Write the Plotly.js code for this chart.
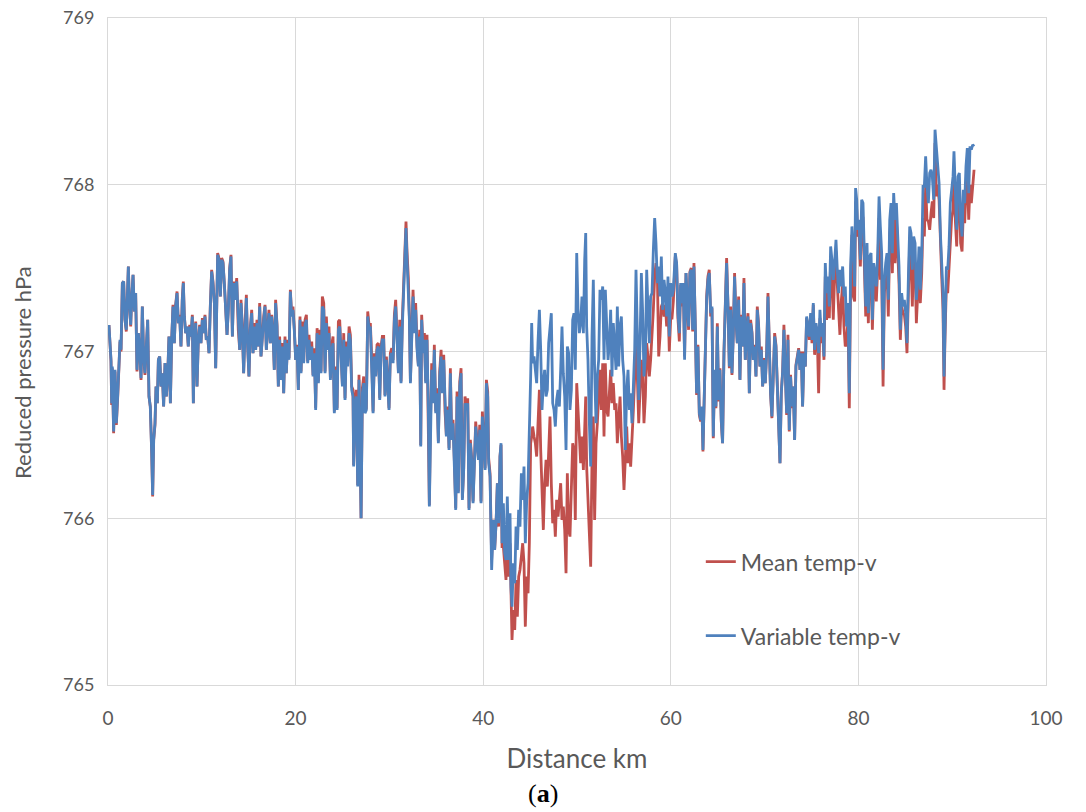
<!DOCTYPE html>
<html>
<head>
<meta charset="utf-8">
<script src="https://cdn.plot.ly/plotly-3.0.1.min.js"></script>
<style>
  html, body { margin: 0; padding: 0; background: #ffffff; }
  #chart { width: 1086px; height: 812px; }
</style>
</head>
<body>
<div id="chart"></div>
<script>
// Distance along the route (km)
const distanceKm = [
  0.00, 0.11, 0.32, 0.39, 0.46, 0.60, 0.75, 0.89, 1.03, 1.17,
  1.28, 1.39, 1.53, 1.67, 1.81, 1.95, 2.06, 2.17, 2.27, 2.42,
  2.52, 2.67, 2.81, 2.95, 3.09, 3.23, 3.38, 3.52, 3.66, 3.80,
  3.94, 4.09, 4.23, 4.37, 4.51, 4.66, 4.76, 4.87, 5.01, 5.12,
  5.26, 5.37, 5.51, 5.65, 5.79, 5.93, 6.08, 6.22, 6.36, 6.50,
  6.65, 6.79, 6.93, 7.07, 7.21, 7.36, 7.50, 7.64, 7.78, 7.92,
  8.03, 8.14, 8.28, 8.42, 8.56, 8.71, 8.85, 8.99, 9.10, 9.20,
  9.35, 9.49, 9.63, 9.77, 9.91, 10.06, 10.20, 10.34, 10.48, 10.63,
  10.77, 10.91, 11.05, 11.19, 11.34, 11.48, 11.58, 11.69, 11.83, 11.98,
  12.12, 12.26, 12.40, 12.54, 12.69, 12.83, 12.97, 13.11, 13.26, 13.40,
  13.54, 13.72, 13.89, 14.04, 14.18, 14.32, 14.46, 14.61, 14.75, 14.89,
  15.03, 15.17, 15.32, 15.46, 15.60, 15.74, 15.88, 16.03, 16.17, 16.31,
  16.45, 16.60, 16.74, 16.88, 17.02, 17.16, 17.31, 17.45, 17.59, 17.73,
  17.87, 18.02, 18.16, 18.30, 18.44, 18.59, 18.73, 18.87, 19.01, 19.15,
  19.30, 19.44, 19.58, 19.72, 19.86, 20.01, 20.15, 20.29, 20.47, 20.58,
  20.72, 20.86, 21.01, 21.15, 21.29, 21.43, 21.57, 21.72, 21.86, 22.00,
  22.14, 22.29, 22.43, 22.57, 22.71, 22.85, 23.00, 23.14, 23.28, 23.42,
  23.56, 23.71, 23.85, 23.99, 24.13, 24.28, 24.42, 24.56, 24.70, 24.84,
  24.99, 25.13, 25.27, 25.41, 25.55, 25.70, 25.84, 25.98, 26.12, 26.19,
  26.34, 26.48, 26.62, 26.76, 26.87, 26.98, 27.12, 27.26, 27.40, 27.54,
  27.69, 27.83, 27.97, 28.11, 28.26, 28.40, 28.54, 28.68, 28.82, 28.97,
  29.11, 29.25, 29.39, 29.53, 29.68, 29.82, 29.96, 30.10, 30.25, 30.39,
  30.53, 30.67, 30.81, 30.96, 31.10, 31.24, 31.38, 31.52, 31.67, 31.77,
  31.88, 32.02, 32.13, 32.24, 32.38, 32.52, 32.66, 32.80, 32.95, 33.09,
  33.23, 33.34, 33.44, 33.59, 33.73, 33.87, 34.01, 34.15, 34.26, 34.37,
  34.51, 34.65, 34.79, 34.94, 35.08, 35.22, 35.36, 35.51, 35.65, 35.79,
  35.93, 36.07, 36.22, 36.36, 36.50, 36.64, 36.78, 36.93, 37.07, 37.21,
  37.35, 37.50, 37.64, 37.78, 37.92, 38.06, 38.21, 38.35, 38.49, 38.63,
  38.77, 38.92, 39.06, 39.20, 39.34, 39.49, 39.63, 39.77, 39.91, 40.05,
  40.20, 40.34, 40.48, 40.58, 40.73, 40.90, 41.08, 41.22, 41.37, 41.51,
  41.65, 41.79, 41.90, 42.01, 42.15, 42.29, 42.43, 42.57, 42.72, 42.86,
  42.96, 43.07, 43.21, 43.36, 43.50, 43.64, 43.78, 43.92, 44.07, 44.21,
  44.35, 44.49, 44.64, 44.78, 44.92, 45.06, 45.17, 45.27, 45.42, 45.56,
  45.70, 45.84, 45.99, 46.13, 46.27, 46.41, 46.55, 46.70, 46.84, 46.98,
  47.12, 47.26, 47.41, 47.55, 47.69, 47.83, 47.98, 48.12, 48.26, 48.40,
  48.54, 48.69, 48.83, 48.97, 49.11, 49.25, 49.40, 49.54, 49.68, 49.82,
  49.97, 50.11, 50.25, 50.39, 50.53, 50.68, 50.82, 50.93, 51.03, 51.17,
  51.32, 51.46, 51.60, 51.74, 51.88, 52.03, 52.17, 52.31, 52.45, 52.60,
  52.74, 52.88, 53.02, 53.16, 53.31, 53.45, 53.59, 53.73, 53.87, 54.02,
  54.16, 54.30, 54.44, 54.59, 54.73, 54.87, 55.01, 55.15, 55.30, 55.44,
  55.58, 55.72, 55.86, 56.01, 56.15, 56.29, 56.43, 56.58, 56.72, 56.86,
  57.00, 57.14, 57.29, 57.43, 57.57, 57.71, 57.85, 58.00, 58.14, 58.28,
  58.42, 58.57, 58.71, 58.85, 58.99, 59.13, 59.28, 59.42, 59.56, 59.70,
  59.84, 59.99, 60.13, 60.27, 60.48, 60.62, 60.76, 60.91, 61.05, 61.19,
  61.33, 61.47, 61.62, 61.76, 61.90, 62.04, 62.18, 62.33, 62.47, 62.61,
  62.75, 62.89, 63.04, 63.18, 63.32, 63.43, 63.57, 63.71, 63.82, 63.96,
  64.10, 64.25, 64.39, 64.53, 64.67, 64.81, 64.96, 65.10, 65.24, 65.38,
  65.52, 65.67, 65.81, 65.95, 66.09, 66.24, 66.38, 66.52, 66.66, 66.80,
  66.95, 67.09, 67.23, 67.37, 67.51, 67.66, 67.80, 67.94, 68.08, 68.23,
  68.37, 68.51, 68.65, 68.79, 68.94, 69.08, 69.22, 69.36, 69.50, 69.65,
  69.79, 69.93, 70.07, 70.22, 70.36, 70.50, 70.64, 70.78, 70.93, 71.07,
  71.21, 71.35, 71.49, 71.64, 71.78, 71.92, 72.06, 72.21, 72.35, 72.49,
  72.63, 72.77, 72.92, 73.06, 73.20, 73.34, 73.48, 73.63, 73.77, 73.91,
  74.05, 74.20, 74.34, 74.48, 74.62, 74.76, 74.91, 75.05, 75.19, 75.33,
  75.48, 75.62, 75.76, 75.90, 76.04, 76.19, 76.33, 76.47, 76.61, 76.75,
  76.90, 77.04, 77.18, 77.32, 77.46, 77.61, 77.75, 77.89, 78.03, 78.17,
  78.32, 78.46, 78.60, 78.74, 78.89, 79.03, 79.17, 79.31, 79.46, 79.60,
  79.70, 79.82, 79.92, 80.07, 80.21, 80.35, 80.49, 80.64, 80.78, 80.92,
  81.06, 81.20, 81.35, 81.49, 81.63, 81.77, 81.91, 82.06, 82.20, 82.34,
  82.48, 82.63, 82.77, 82.91, 83.05, 83.19, 83.34, 83.48, 83.62, 83.76,
  83.90, 84.05, 84.19, 84.33, 84.47, 84.61, 84.76, 84.90, 85.04, 85.18,
  85.33, 85.47, 85.61, 85.75, 85.89, 86.04, 86.18, 86.32, 86.46, 86.60,
  86.75, 86.89, 87.03, 87.17, 87.31, 87.46, 87.60, 87.74, 87.88, 88.03,
  88.17, 88.31, 88.45, 88.60, 88.74, 88.88, 89.02, 89.13, 89.23, 89.38,
  89.52, 89.66, 89.80, 89.94, 90.09, 90.19, 90.34, 90.48, 90.62, 90.76,
  90.90, 91.05, 91.19, 91.33, 91.47, 91.61, 91.76, 91.90, 92.04, 92.18,
  92.33
];

// Reduced pressure (hPa), mean temperature virtual
const meanTempV = [
  767.15, 767.15, 766.94, 766.68, 766.90, 766.51, 766.88, 766.56, 766.72, 766.95,
  767.06, 767.00, 767.41, 767.42, 767.19, 767.12, 767.33, 767.51, 767.31, 767.15,
  767.31, 767.46, 767.24, 767.35, 766.88, 767.11, 767.01, 766.83, 767.27, 766.97,
  766.86, 767.01, 767.19, 766.73, 766.67, 766.39, 766.13, 766.47, 766.56, 766.79,
  766.69, 766.95, 766.97, 766.79, 766.87, 766.67, 766.93, 766.73, 766.85, 767.09,
  766.69, 767.07, 767.28, 767.05, 767.28, 767.36, 767.17, 767.22, 767.03, 767.32,
  767.42, 767.21, 767.11, 767.15, 767.03, 767.16, 767.09, 767.22, 766.69, 767.01,
  767.18, 766.79, 767.07, 767.16, 767.05, 767.20, 767.11, 767.22, 767.07, 767.09,
  766.99, 767.28, 767.49, 767.42, 767.29, 766.90, 767.36, 767.59, 767.56, 767.33,
  767.56, 767.54, 767.41, 767.25, 767.10, 767.26, 767.50, 767.58, 767.09, 767.42,
  767.31, 767.44, 767.13, 767.01, 767.31, 767.15, 766.87, 767.16, 767.34, 767.03,
  766.85, 767.14, 767.25, 766.99, 767.17, 767.01, 767.19, 767.03, 767.29, 766.97,
  767.10, 767.21, 767.28, 767.01, 767.14, 767.25, 767.05, 767.22, 767.12, 766.89,
  767.31, 767.16, 766.79, 767.09, 766.83, 767.05, 766.75, 767.09, 766.87, 767.07,
  766.96, 767.37, 767.22, 767.27, 767.14, 766.95, 767.04, 766.77, 767.21, 766.88,
  767.18, 766.94, 767.19, 767.22, 766.94, 767.10, 766.96, 767.06, 766.86, 767.02,
  766.66, 767.14, 766.82, 767.13, 766.88, 767.33, 767.29, 766.88, 767.21, 767.03,
  767.15, 766.84, 767.04, 767.09, 766.64, 766.91, 766.66, 767.18, 767.19, 766.95,
  766.80, 767.11, 766.72, 767.06, 766.93, 767.15, 767.10, 766.79, 766.77, 766.32,
  766.72, 766.77, 766.20, 766.86, 766.36, 766.00, 766.78, 766.85, 766.64, 766.66,
  767.24, 767.16, 767.17, 766.97, 766.64, 766.99, 766.86, 767.04, 767.05, 766.72,
  767.03, 767.09, 767.09, 766.74, 766.97, 766.83, 766.66, 766.99, 767.02, 766.95,
  767.22, 767.31, 767.07, 766.88, 767.19, 766.82, 767.19, 767.41, 767.60, 767.78,
  767.60, 767.44, 767.21, 766.82, 767.10, 767.37, 767.14, 767.29, 767.03, 766.92,
  767.13, 766.44, 767.22, 767.01, 767.11, 766.82, 767.10, 766.66, 766.08, 766.56,
  766.93, 766.70, 767.04, 766.64, 766.78, 766.46, 766.88, 767.01, 766.77, 766.98,
  766.64, 766.50, 766.67, 766.42, 766.90, 766.48, 766.59, 766.34, 766.06, 766.76,
  766.16, 766.82, 766.90, 766.12, 766.30, 766.73, 766.68, 766.72, 766.06, 766.47,
  766.36, 766.10, 766.41, 766.58, 766.47, 766.36, 766.56, 766.10, 766.64, 766.49,
  766.30, 766.83, 766.76, 766.36, 766.27, 765.75, 765.99, 765.81, 765.97, 766.21,
  765.95, 766.37, 766.44, 765.83, 765.83, 765.73, 765.63, 765.93, 765.65, 765.85,
  765.41, 765.27, 765.45, 765.33, 765.63, 765.41, 765.65, 765.69, 765.77, 765.85,
  765.73, 765.35, 765.65, 765.55, 765.85, 766.45, 766.49, 766.55, 766.49, 766.45,
  766.37, 766.57, 766.77, 766.41, 766.15, 765.93, 766.21, 766.35, 766.19, 766.45,
  766.61, 766.21, 765.97, 766.05, 765.89, 766.11, 766.01, 766.11, 766.21, 765.99,
  766.07, 765.93, 765.67, 766.27, 765.93, 765.89, 766.15, 766.45, 766.41, 765.99,
  766.81, 766.59, 766.49, 766.33, 766.49, 766.29, 766.55, 766.73, 766.31, 766.11,
  765.97, 765.71, 766.35, 766.61, 765.99, 766.45, 766.57, 766.73, 766.89, 766.65,
  766.93, 766.49, 766.93, 766.65, 766.61, 766.75, 766.89, 766.69, 766.81, 766.65,
  766.69, 766.45, 766.59, 766.73, 766.49, 766.37, 766.17, 766.41, 766.55, 766.33,
  766.45, 766.31, 766.53, 766.65, 766.85, 767.13, 766.85, 766.57, 766.77, 766.95,
  766.85, 766.57, 766.73, 767.05, 766.97, 766.85, 766.95, 767.09, 767.25, 767.45,
  767.53, 767.45, 766.97, 767.09, 767.27, 767.29, 767.21, 767.28, 767.15, 767.30,
  767.00, 767.20, 767.20, 767.30, 767.57, 767.52, 767.20, 767.06, 767.40, 767.27,
  767.41, 766.97, 767.47, 767.26, 767.13, 767.48, 767.50, 767.12, 767.53, 767.15,
  766.74, 767.04, 766.62, 766.58, 766.66, 766.40, 766.75, 767.01, 767.33, 767.45,
  767.49, 767.21, 767.26, 766.48, 766.88, 766.66, 767.17, 766.70, 766.90, 766.58,
  766.45, 767.00, 767.37, 767.56, 767.29, 766.90, 767.27, 766.86, 767.10, 767.47,
  767.19, 767.05, 767.33, 766.83, 767.22, 767.03, 767.44, 766.95, 767.14, 767.23,
  766.75, 767.19, 767.12, 766.95, 767.04, 766.85, 767.27, 767.16, 766.91, 767.03,
  766.79, 766.96, 766.81, 767.00, 767.35, 767.04, 766.74, 766.60, 766.96, 767.11,
  767.04, 766.78, 766.56, 766.33, 766.76, 766.88, 767.16, 766.78, 766.62, 767.10,
  766.52, 766.86, 766.66, 766.79, 766.47, 766.92, 766.98, 767.02, 766.89, 767.00,
  766.67, 767.00, 766.91, 767.20, 767.15, 767.07, 767.22, 767.05, 767.28, 766.98,
  767.15, 767.08, 766.75, 767.20, 767.05, 767.12, 766.95, 767.45, 767.19, 767.35,
  767.20, 767.55, 767.45, 767.19, 767.45, 767.60, 767.40, 767.25, 767.10, 767.30,
  767.40, 767.15, 767.03, 767.05, 767.20, 766.66, 767.40, 767.70, 767.33, 767.30,
  767.90, 767.85, 767.69, 767.70, 767.51, 767.80, 767.80, 767.50, 767.21, 767.55,
  767.17, 767.50, 767.50, 767.13, 767.42, 767.38, 767.30, 767.50, 767.80, 767.43,
  767.50, 766.79, 767.35, 767.45, 767.50, 767.21, 767.70, 767.80, 767.47, 767.85,
  767.53, 767.80, 767.62, 767.41, 767.07, 767.27, 767.23, 767.22, 767.15, 766.99,
  767.35, 767.65, 767.55, 767.27, 767.60, 767.53, 767.17, 767.33, 767.52, 767.29,
  767.47, 767.80, 767.69, 768.00, 767.79, 767.78, 767.73, 767.83, 767.90, 767.80,
  768.25, 767.93, 768.00, 767.91, 767.62, 767.45, 767.25, 766.77, 767.08, 767.40,
  767.35, 767.50, 767.70, 767.80, 767.85, 768.05, 767.78, 767.63, 767.95, 767.95,
  767.65, 767.60, 767.85, 767.77, 767.98, 768.05, 767.79, 768.00, 767.89, 768.02,
  768.09
];

// Reduced pressure (hPa), variable temperature virtual
const variableTempV = [
  767.15, 767.15, 766.95, 766.69, 766.91, 766.52, 766.89, 766.57, 766.73, 766.95,
  767.07, 767.01, 767.41, 767.42, 767.19, 767.13, 767.33, 767.51, 767.31, 767.16,
  767.31, 767.46, 767.24, 767.35, 766.89, 767.11, 767.01, 766.84, 767.27, 766.97,
  766.87, 767.01, 767.19, 766.73, 766.67, 766.39, 766.14, 766.47, 766.57, 766.79,
  766.69, 766.95, 766.97, 766.79, 766.87, 766.67, 766.93, 766.73, 766.85, 767.09,
  766.69, 767.07, 767.27, 767.05, 767.27, 767.35, 767.17, 767.21, 767.03, 767.31,
  767.41, 767.21, 767.11, 767.15, 767.03, 767.15, 767.09, 767.21, 766.69, 767.01,
  767.17, 766.79, 767.07, 767.15, 767.05, 767.19, 767.11, 767.21, 767.07, 767.09,
  766.99, 767.27, 767.48, 767.41, 767.29, 766.90, 767.35, 767.58, 767.55, 767.33,
  767.55, 767.53, 767.41, 767.25, 767.10, 767.25, 767.49, 767.57, 767.09, 767.41,
  767.31, 767.42, 767.13, 767.01, 767.29, 767.15, 766.87, 767.15, 767.32, 767.03,
  766.85, 767.13, 767.23, 766.99, 767.15, 767.01, 767.17, 767.03, 767.27, 766.97,
  767.09, 767.19, 767.27, 767.01, 767.13, 767.23, 767.05, 767.21, 767.11, 766.89,
  767.29, 767.15, 766.79, 767.07, 766.83, 767.03, 766.75, 767.07, 766.87, 767.05,
  766.95, 767.36, 767.21, 767.25, 767.13, 766.95, 767.03, 766.77, 767.19, 766.87,
  767.15, 766.93, 767.16, 767.19, 766.93, 767.07, 766.95, 767.03, 766.85, 766.99,
  766.65, 767.11, 766.81, 767.10, 766.87, 767.27, 767.25, 766.87, 767.17, 767.01,
  767.11, 766.83, 767.01, 767.05, 766.63, 766.89, 766.65, 767.13, 767.15, 766.93,
  766.79, 767.07, 766.71, 767.03, 766.91, 767.11, 767.07, 766.77, 766.73, 766.31,
  766.69, 766.73, 766.19, 766.83, 766.35, 766.00, 766.75, 766.81, 766.63, 766.65,
  767.21, 767.13, 767.15, 766.95, 766.63, 766.97, 766.85, 767.01, 767.03, 766.71,
  767.01, 767.07, 767.07, 766.73, 766.95, 766.81, 766.65, 766.97, 766.99, 766.93,
  767.19, 767.27, 767.05, 766.87, 767.15, 766.81, 767.15, 767.37, 767.55, 767.74,
  767.55, 767.39, 767.19, 766.81, 767.07, 767.33, 767.11, 767.25, 767.01, 766.91,
  767.09, 766.43, 767.19, 766.99, 767.07, 766.81, 767.07, 766.65, 766.07, 766.55,
  766.89, 766.69, 767.01, 766.63, 766.75, 766.45, 766.85, 766.97, 766.75, 766.95,
  766.63, 766.49, 766.65, 766.41, 766.87, 766.47, 766.57, 766.33, 766.05, 766.73,
  766.15, 766.79, 766.87, 766.11, 766.29, 766.69, 766.65, 766.69, 766.05, 766.45,
  766.35, 766.09, 766.39, 766.55, 766.45, 766.35, 766.53, 766.09, 766.61, 766.47,
  766.29, 766.81, 766.73, 766.33, 766.25, 765.69, 765.99, 765.81, 765.97, 766.21,
  765.97, 766.37, 766.45, 765.85, 766.09, 765.79, 765.75, 766.13, 765.75, 766.03,
  765.59, 765.47, 765.73, 765.61, 765.95, 765.81, 766.05, 765.95, 766.27, 766.11,
  766.31, 765.85, 766.11, 766.21, 766.49, 766.85, 767.17, 766.93, 766.97, 766.89,
  766.81, 767.05, 767.25, 767.01, 766.65, 766.81, 766.89, 766.73, 766.77, 767.05,
  767.15, 767.23, 766.69, 766.65, 766.55, 766.71, 766.77, 766.67, 766.89, 767.15,
  766.87, 766.73, 766.41, 767.03, 766.99, 766.65, 766.77, 767.19, 767.23, 766.89,
  767.59, 767.25, 767.11, 767.17, 767.33, 767.11, 767.55, 767.71, 767.15, 766.95,
  766.57, 766.31, 767.09, 767.43, 766.89, 766.57, 766.85, 766.95, 767.37, 767.31,
  767.39, 766.95, 767.37, 767.17, 766.95, 767.05, 767.25, 766.85, 767.17, 767.03,
  766.89, 767.27, 766.91, 767.15, 767.21, 766.95, 766.85, 766.41, 766.77, 766.89,
  766.65, 766.75, 766.57, 766.79, 767.01, 767.49, 767.07, 766.71, 767.05, 767.47,
  767.23, 766.85, 766.97, 767.49, 767.25, 767.05, 767.33, 767.35, 767.61, 767.80,
  767.65, 767.41, 767.51, 767.33, 767.57, 767.25, 767.43, 767.35, 767.21, 767.45,
  767.09, 767.41, 767.33, 767.37, 767.59, 767.53, 767.23, 767.11, 767.41, 767.29,
  767.41, 766.95, 767.47, 767.27, 767.15, 767.47, 767.49, 767.13, 767.51, 767.17,
  766.75, 767.03, 766.63, 766.59, 766.67, 766.41, 766.75, 767.01, 767.31, 767.43,
  767.47, 767.23, 767.27, 766.49, 766.89, 766.67, 767.15, 766.71, 766.89, 766.59,
  766.45, 766.99, 767.35, 767.53, 767.29, 766.91, 767.25, 766.87, 767.09, 767.45,
  767.19, 767.05, 767.31, 766.83, 767.21, 767.03, 767.41, 766.95, 767.13, 767.21,
  766.75, 767.17, 767.11, 766.95, 767.03, 766.85, 767.25, 767.15, 766.91, 767.01,
  766.79, 766.95, 766.81, 766.99, 767.33, 767.03, 766.75, 766.61, 766.95, 767.09,
  767.03, 766.79, 766.57, 766.33, 766.75, 766.87, 767.13, 766.79, 766.63, 767.07,
  766.53, 766.85, 766.67, 766.79, 766.47, 766.91, 766.97, 767.01, 766.89, 766.99,
  766.67, 766.99, 766.91, 767.21, 767.15, 767.09, 767.23, 767.07, 767.29, 767.01,
  767.17, 767.11, 766.99, 767.25, 767.09, 767.17, 766.97, 767.53, 767.35, 767.45,
  767.27, 767.63, 767.55, 767.43, 767.53, 767.67, 767.49, 767.35, 767.49, 767.39,
  767.51, 767.33, 767.39, 767.15, 767.29, 766.75, 767.51, 767.75, 767.59, 767.39,
  767.98, 767.91, 767.73, 767.79, 767.55, 767.91, 767.89, 767.55, 767.27, 767.65,
  767.23, 767.57, 767.59, 767.19, 767.53, 767.47, 767.39, 767.59, 767.93, 767.75,
  767.59, 766.89, 767.43, 767.53, 767.59, 767.31, 767.79, 767.89, 767.59, 767.95,
  767.79, 767.89, 767.73, 767.51, 767.13, 767.35, 767.27, 767.31, 767.23, 767.05,
  767.45, 767.75, 767.71, 767.49, 767.69, 767.65, 767.31, 767.43, 767.63, 767.37,
  767.57, 767.99, 767.99, 768.17, 767.99, 767.89, 768.07, 768.09, 768.05, 767.91,
  768.33, 768.23, 768.13, 768.01, 767.71, 767.53, 767.35, 766.85, 767.19, 767.51,
  767.49, 767.63, 767.89, 767.99, 768.05, 768.20, 767.89, 767.73, 768.05, 768.07,
  767.79, 767.69, 767.97, 767.89, 768.11, 768.22, 767.95, 768.23, 768.21, 768.24,
  768.23
];

const seriesNames = ['Mean temp-v', 'Variable temp-v'];
const seriesColors = ['#C0504D', '#4F81BD'];
const xTickValues = [0, 20, 40, 60, 80, 100];
const yTickValues = [765, 766, 767, 768, 769];

const textColor = '#595959';
const gridColor = '#D9D9D9';
const baseFont = 'Lato, "Open Sans", sans-serif';

const traces = [
  {
    x: distanceKm, y: meanTempV, name: seriesNames[0], type: 'scatter', mode: 'lines',
    line: { color: seriesColors[0], width: 2.8 }, legendgroup: 'a'
  },
  {
    x: distanceKm, y: variableTempV, name: seriesNames[1], type: 'scatter', mode: 'lines',
    line: { color: seriesColors[1], width: 2.8 }, legendgroup: 'b'
  }
];

const layout = {
  width: 1086, height: 812,
  paper_bgcolor: '#ffffff', plot_bgcolor: '#ffffff',
  margin: { l: 108, r: 40, t: 18, b: 127, pad: 0 },
  font: { family: baseFont, color: textColor, size: 18 },
  showlegend: true,
  legend: {
    x: 0.632, y: 0.217, xanchor: 'left', yanchor: 'top',
    bgcolor: 'rgba(0,0,0,0)', borderwidth: 0,
    font: { family: baseFont, size: 23, color: textColor },
    traceorder: 'grouped', tracegroupgap: 41
  },
  xaxis: {
    range: [0, 100], tickvals: xTickValues, ticktext: xTickValues.map(String),
    showgrid: true, gridcolor: gridColor, gridwidth: 1,
    zeroline: false, showline: true, linecolor: gridColor, linewidth: 1, mirror: true,
    ticks: '', ticklabelstandoff: 16,
    tickfont: { family: baseFont, size: 19, color: textColor },
    title: { text: 'Distance km', font: { family: baseFont, size: 26, color: textColor }, standoff: 22 },
    automargin: false, fixedrange: true
  },
  yaxis: {
    range: [765, 769], tickvals: yTickValues, ticktext: yTickValues.map(String),
    showgrid: true, gridcolor: gridColor, gridwidth: 1,
    zeroline: false, showline: true, linecolor: gridColor, linewidth: 1, mirror: true,
    ticks: '', ticklabelstandoff: 9,
    tickfont: { family: baseFont, size: 18, color: textColor },
    automargin: false, fixedrange: true
  },
  annotations: [
    {
      text: 'Reduced pressure hPa', xref: 'paper', yref: 'paper', x: -0.0905, y: 0.468,
      xanchor: 'center', yanchor: 'middle', textangle: -90, showarrow: false,
      font: { family: baseFont, size: 22, color: textColor }
    },
    {
      text: '(<b>a</b>)', xref: 'paper', yref: 'paper', x: 0.4638, y: -0.162,
      xanchor: 'center', yanchor: 'middle', showarrow: false,
      font: { family: '"Liberation Serif", "DejaVu Serif", serif', size: 26, color: '#000000' }
    }
  ]
};

Plotly.newPlot('chart', traces, layout, { staticPlot: true, displayModeBar: false });
</script>
</body>
</html>
